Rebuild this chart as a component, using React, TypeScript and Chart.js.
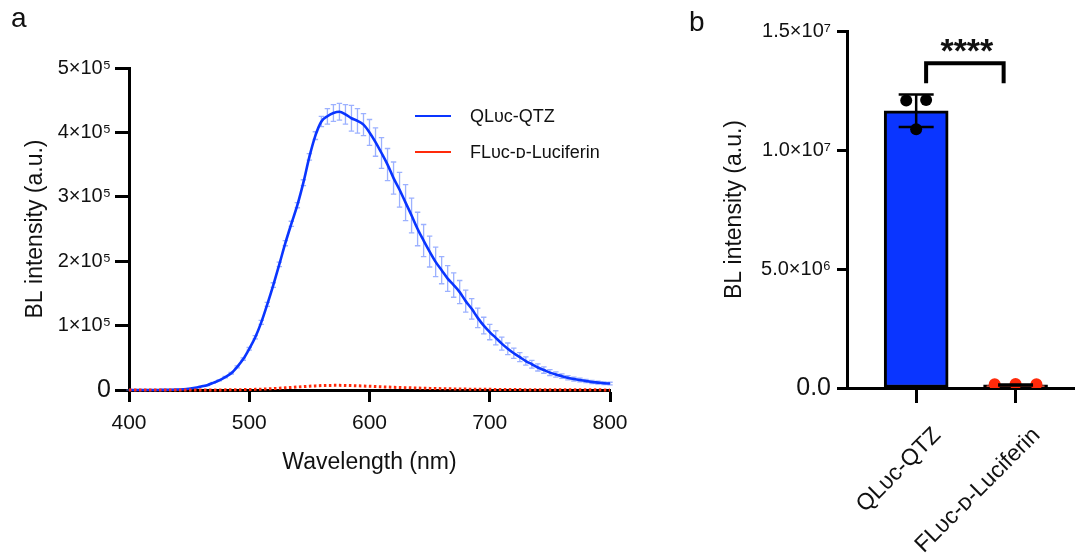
import React, { useEffect, useRef } from "react";
import { Chart, registerables } from "chart.js";
Chart.register(...registerables);

const FONT = "'Liberation Sans', Arial, Helvetica, sans-serif";
const BLUE = "#0a35ff";
const RED = "#ff2a0a";

// ---------- Panel a data ----------
const wavelengths = [
  400, 405, 410, 415, 420, 425, 430, 435, 440, 445,
  450, 455, 460, 465, 470, 475, 480, 485, 490, 495,
  500, 505, 510, 515, 520, 525, 530, 535, 540, 545,
  550, 555, 560, 565, 570, 575, 580, 585, 590, 595,
  600, 605, 610, 615, 620, 625, 630, 635, 640, 645,
  650, 655, 660, 665, 670, 675, 680, 685, 690, 695,
  700, 705, 710, 715, 720, 725, 730, 735, 740, 745,
  750, 755, 760, 765, 770, 775, 780, 785, 790, 795,
  800,
];
const qlucMean = [
  0, 0, 0, 0, 0, 100, 200, 400, 700, 1200,
  2000, 3500, 5500, 7500, 11000, 15000, 20000, 26000, 36000, 48000,
  64000, 82000, 105000, 133000, 163000, 195000, 228000, 258000, 287000, 322000,
  362000, 395000, 417000, 425000, 430000, 432000, 428000, 422000, 418000, 412000,
  400000, 385000, 368000, 350000, 329000, 311000, 291000, 271000, 250000, 232000,
  215000, 199000, 186000, 173000, 163000, 152000, 138000, 126000, 112000, 100000,
  90000, 81000, 72000, 64000, 57000, 51000, 45000, 40000, 35000, 31000,
  27000, 24000, 21500, 19000, 17000, 15500, 14000, 12500, 11500, 10500,
  10000,
];
const qlucSd = [
  300, 300, 300, 300, 300, 300, 300, 300, 300, 300,
  300, 300, 400, 500, 800, 800, 1000, 1200, 1500, 1800,
  2000, 2500, 3000, 3000, 3500, 3500, 4000, 4000, 4000, 4500,
  5000, 6000, 8000, 12000, 13000, 13000, 15000, 20000, 19000, 17000,
  20000, 22000, 24000, 25000, 25000, 27000, 28000, 27000, 26000, 25000,
  24000, 23000, 21000, 20000, 19000, 18000, 17000, 16000, 15000, 13000,
  12000, 11000, 10000, 9000, 8000, 7000, 6500, 6000, 5500, 5000,
  4500, 4000, 3500, 3200, 3000, 2800, 2600, 2400, 2200, 2000,
  2000,
];
const flucMean = [
  0, 0, 0, 0, 0, 0, 0, 0, 0, 0,
  0, 0, 0, 0, 0, 100, 200, 300, 400, 600,
  800, 1000, 1300, 1700, 2200, 2800, 3400, 4000, 4700, 5300,
  5900, 6400, 6800, 7100, 7200, 7200, 7000, 6800, 6500, 6200,
  5800, 5400, 5000, 4600, 4200, 3900, 3600, 3300, 3000, 2700,
  2500, 2300, 2100, 1900, 1700, 1500, 1400, 1300, 1200, 1100,
  1000, 900, 800, 700, 650, 600, 550, 500, 450, 400,
  380, 350, 320, 300, 280, 260, 240, 220, 200, 190,
  170,
];
const seriesNames = ["QL\u1d1c\u1d04-QTZ", "FL\u1d1c\u1d04-\u1d05-Luciferin"];
const aYTickLabels = ["0", "1×10⁵", "2×10⁵", "3×10⁵", "4×10⁵", "5×10⁵"];
const aXTitle = "Wavelength (nm)";
const yTitle = "BL intensity (a.u.)";

// ---------- Panel b data ----------
const barCategories = ["QL\u1d1c\u1d04-QTZ", "FL\u1d1c\u1d04-\u1d05-Luciferin"];
const barMeans = [11650000, 130000];
const barSds = [680000, 20000];
const qlucPoints = [12080000, 12100000, 10870000];
const flucPoints = [160000, 170000, 160000];
const bYTickLabels = ["0.0", "5.0×10⁶", "1.0×10⁷", "1.5×10⁷"];
const significance = "****";

const JITTER_A = [-0.1, 0.1, 0];
const JITTER_B = [-0.21, 0, 0.21];

export default function App() {
  const refA = useRef<HTMLCanvasElement>(null);
  const refB = useRef<HTMLCanvasElement>(null);

  useEffect(() => {
    const errorBarsA = {
      id: "errorBarsA",
      beforeDatasetsDraw(chart: any) {
        const { ctx, scales } = chart;
        const xs = scales.x, ys = scales.y;
        ctx.save();
        ctx.strokeStyle = "rgba(90,125,255,0.6)";
        ctx.lineWidth = 1.3;
        wavelengths.forEach((w, i) => {
          const x = xs.getPixelForValue(w);
          const yt = ys.getPixelForValue(qlucMean[i] + qlucSd[i]);
          const yb = ys.getPixelForValue(Math.max(0, qlucMean[i] - qlucSd[i]));
          ctx.beginPath();
          ctx.moveTo(x, yt); ctx.lineTo(x, yb);
          ctx.moveTo(x - 2.7, yt); ctx.lineTo(x + 2.7, yt);
          ctx.moveTo(x - 2.7, yb); ctx.lineTo(x + 2.7, yb);
          ctx.stroke();
        });
        ctx.restore();
      },
    };
    const legendA = {
      id: "legendA",
      afterDraw(chart: any) {
        const { ctx } = chart;
        ctx.save();
        const rows = [
          { y: 116, color: BLUE, text: seriesNames[0] },
          { y: 152, color: RED, text: seriesNames[1] },
        ];
        ctx.font = `18px ${FONT}`;
        ctx.textBaseline = "middle";
        ctx.textAlign = "left";
        rows.forEach((r) => {
          ctx.strokeStyle = r.color;
          ctx.lineWidth = 2;
          ctx.beginPath();
          ctx.moveTo(415, r.y); ctx.lineTo(451, r.y);
          ctx.stroke();
          ctx.fillStyle = "#111";
          ctx.fillText(r.text, 470, r.y + 1);
        });
        ctx.restore();
      },
    };

    const chartA = new Chart(refA.current!, {
      type: "line",
      data: {
        datasets: [
          {
            label: seriesNames[0],
            data: wavelengths.map((w, i) => ({ x: w, y: qlucMean[i] })),
            borderColor: BLUE,
            borderWidth: 2.6,
            pointRadius: 0,
            cubicInterpolationMode: "monotone",
            clip: false as any,
            order: 1,
          },
          {
            label: seriesNames[1],
            data: wavelengths.map((w, i) => ({ x: w, y: flucMean[i] })),
            borderColor: RED,
            borderWidth: 3,
            borderDash: [2.5, 2.5],
            pointRadius: 0,
            clip: false as any,
            order: 0,
          },
        ],
      },
      options: {
        responsive: false,
        animation: false,
        devicePixelRatio: 1,
        layout: { padding: { top: 68, right: 50, left: 0, bottom: 0 } },
        plugins: { legend: { display: false }, tooltip: { enabled: false } },
        scales: {
          x: {
            type: "linear",
            min: 400,
            max: 800,
            ticks: { stepSize: 100, color: "#111", font: { family: FONT, size: 21 }, padding: 9 },
            grid: { drawOnChartArea: false, tickLength: 12, tickWidth: 3, tickColor: "#000" },
            border: { width: 3, color: "#000" },
            title: { display: true, text: aXTitle, color: "#111", font: { family: FONT, size: 23 }, padding: { top: 0, bottom: 80 } },
            afterFit: (s: any) => { s.height = 166; s.paddingLeft = 0; s.paddingRight = 0; },
          },
          y: {
            min: 0,
            max: 500000,
            ticks: {
              stepSize: 100000,
              color: "#111",
              padding: 4,
              font: (c: any) => ({ family: FONT, size: c.tick && c.tick.value === 0 ? 25 : 20 }),
              callback: (v: any, i: number) => aYTickLabels[i],
            },
            grid: { drawOnChartArea: false, tickLength: 14, tickWidth: 3, tickColor: "#000" },
            border: { width: 3, color: "#000" },
            title: { display: true, text: yTitle, color: "#111", font: { family: FONT, size: 23 }, padding: { top: 22, bottom: 0 } },
            afterFit: (s: any) => { s.width = 129; },
          },
        },
      },
      plugins: [errorBarsA, legendA],
    });

    const annotB = {
      id: "annotB",
      afterDatasetsDraw(chart: any) {
        const { ctx, scales } = chart;
        const xs = scales.x, ys = scales.y;
        ctx.save();
        ctx.strokeStyle = "#000";
        ctx.lineWidth = 2.5;
        barMeans.forEach((m, i) => {
          const x = xs.getPixelForValue(i);
          const yt = ys.getPixelForValue(m + barSds[i]);
          const yb = ys.getPixelForValue(m - barSds[i]);
          ctx.beginPath();
          ctx.moveTo(x, yt); ctx.lineTo(x, yb);
          ctx.moveTo(x - 17.5, yt); ctx.lineTo(x + 17.5, yt);
          ctx.moveTo(x - 17.5, yb); ctx.lineTo(x + 17.5, yb);
          ctx.stroke();
        });
        // significance bracket
        const xl = xs.getPixelForValue(0.1);
        const xr = xs.getPixelForValue(0.88);
        const yTop = ys.getPixelForValue(13650000);
        const yLeg = ys.getPixelForValue(12800000);
        ctx.lineWidth = 4;
        ctx.lineJoin = "miter";
        ctx.beginPath();
        ctx.moveTo(xl, yLeg); ctx.lineTo(xl, yTop); ctx.lineTo(xr, yTop); ctx.lineTo(xr, yLeg);
        ctx.stroke();
        ctx.fillStyle = "#111";
        ctx.font = `bold 34px ${FONT}`;
        ctx.textAlign = "center";
        ctx.textBaseline = "alphabetic";
        ctx.fillText(significance, (xl + xr) / 2 + 2, yTop - 1);
        ctx.restore();
      },
    };

    const chartB = new Chart(refB.current!, {
      type: "bar",
      data: {
        datasets: [
          {
            type: "scatter",
            data: qlucPoints.map((v, i) => ({ x: 0 + JITTER_A[i], y: v })),
            backgroundColor: "#000",
            borderWidth: 0,
            pointRadius: 6,
            order: 0,
          } as any,
          {
            type: "scatter",
            data: flucPoints.map((v, i) => ({ x: 1 + JITTER_B[i], y: v })),
            backgroundColor: RED,
            borderWidth: 0,
            pointRadius: 6,
            order: 0,
          } as any,
          {
            type: "bar",
            data: barMeans.map((m, i) => ({ x: i, y: m })),
            backgroundColor: [BLUE, RED],
            borderColor: "#000",
            borderWidth: 3,
            borderSkipped: false,
            barThickness: 64,
            order: 2,
          } as any,
        ],
      },
      options: {
        responsive: false,
        animation: false,
        devicePixelRatio: 1,
        layout: { padding: { top: 31, right: 0, left: 0, bottom: 0 } },
        plugins: { legend: { display: false }, tooltip: { enabled: false } },
        scales: {
          x: {
            type: "linear",
            min: -0.696,
            max: 1.588,
            offset: false,
            afterBuildTicks: (s: any) => { s.ticks = [{ value: 0 }, { value: 1 }]; },
            ticks: {
              color: "#111",
              font: { family: FONT, size: 23 },
              maxRotation: 45,
              minRotation: 45,
              padding: 19,
              labelOffset: 21,
              callback: (v: any) => barCategories[Math.round(v)],
            },
            grid: { offset: false, drawOnChartArea: false, tickLength: 15, tickWidth: 3, tickColor: "#000" },
            border: { width: 3, color: "#000" },
            afterFit: (s: any) => { s.height = 168; s.paddingLeft = 0; s.paddingRight = 0; },
          },
          y: {
            min: 0,
            max: 15000000,
            ticks: {
              stepSize: 5000000,
              color: "#111",
              padding: 6,
              font: (c: any) => ({ family: FONT, size: c.tick && c.tick.value === 0 ? 25 : 20 }),
              callback: (v: any, i: number) => bYTickLabels[i],
            },
            grid: { drawOnChartArea: false, tickLength: 10, tickWidth: 3, tickColor: "#000" },
            border: { width: 3, color: "#000" },
            title: { display: true, text: yTitle, color: "#111", font: { family: FONT, size: 23 }, padding: { top: 61, bottom: 0 } },
            afterFit: (s: any) => { s.width = 187; },
          },
        },
      },
      plugins: [annotB],
    });

    return () => {
      chartA.destroy();
      chartB.destroy();
    };
  }, []);

  const letter: React.CSSProperties = {
    position: "absolute",
    fontFamily: FONT,
    fontSize: 28,
    lineHeight: 1,
    color: "#111",
  };

  return (
    <div style={{ position: "absolute", left: 0, top: 0, width: 1080, height: 556, overflow: "hidden", background: "#fff" }}>
      <canvas ref={refA} width={660} height={556} style={{ position: "absolute", left: 0, top: 0 }} />
      <canvas ref={refB} width={420} height={556} style={{ position: "absolute", left: 660, top: 0 }} />
      <div style={{ ...letter, left: 11, top: 4 }}>a</div>
      <div style={{ ...letter, left: 689, top: 8 }}>b</div>
    </div>
  );
}
